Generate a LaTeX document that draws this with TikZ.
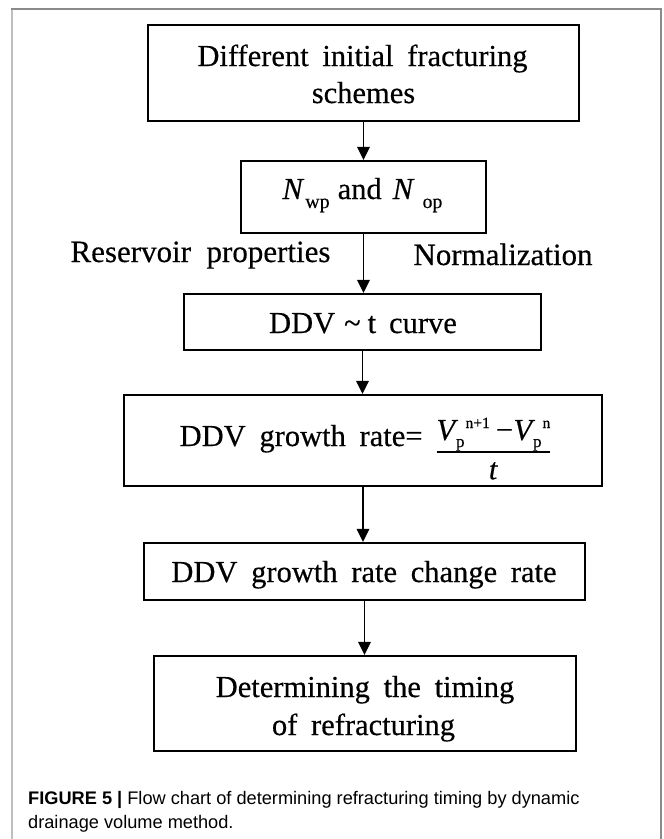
\documentclass[tikz,border=0pt]{standalone}
\usepackage{fontspec}
\setmainfont{Liberation Serif}[WordSpace=1.8, FakeBold=0.4]
\newfontfamily\labelfont{Liberation Serif}[WordSpace=2, FakeBold=0.4]
\newfontfamily\capfont{Liberation Sans}
\usetikzlibrary{arrows.meta}
\definecolor{framedark}{HTML}{8A8A8A}
\definecolor{framelight}{HTML}{BEBEBE}
\newcommand\lowsub[1]{\raisebox{-9pt}{\fontsize{20}{20}\selectfont #1}}
\newcommand\Vpp[1]{\textit{V}\kern-2pt\raisebox{-7pt}{\fontsize{17}{17}\selectfont p}\kern1pt\raisebox{12pt}{\fontsize{15.5}{15.5}\selectfont #1}}
\newcommand\myfrac[2]{\vtop{\halign{\hfil##\hfil\cr
  \raisebox{0pt}[\height][0pt]{#1}\cr
  \noalign{\kern11.3pt\hrule height 1.4pt}
  \rule{0pt}{26.6pt}#2\cr}}}
\begin{document}
\begin{tikzpicture}[x=1pt,y=-1pt,
  box/.style={draw=black, line width=2.1pt, inner sep=0pt},
  bt/.style={inner sep=0pt, anchor=base, font=\fontsize{30.5}{31}\selectfont},
  lbl/.style={inner sep=0pt, anchor=base, font=\labelfont\fontsize{31}{32}\selectfont},
  captxt/.style={inner sep=0pt, anchor=base west, font=\capfont\fontsize{18.2}{19}\selectfont},
  arr/.style={line width=1.8pt, -{Triangle[length=13pt,width=12.5pt]}}
]
\useasboundingbox (0,0) rectangle (664,839);
\fill[white] (0,0) rectangle (664,839);
\draw[framelight, line width=1.8pt] (12,839) -- (12,9);
\draw[framedark, line width=1.6pt] (11.1,9) -- (661,9) -- (661,839);

\node[box, minimum width=431pt, minimum height=96pt] (b1) at (363.5,73) {};
\node[box, minimum width=245pt, minimum height=72pt] (b2) at (363.5,197) {};
\node[box, minimum width=357pt, minimum height=56pt] (b3) at (362.5,322) {};
\node[box, minimum width=478pt, minimum height=91pt] (b4) at (363,440.5) {};
\node[box, minimum width=441pt, minimum height=57pt] (b5) at (364.5,571.5) {};
\node[box, minimum width=422pt, minimum height=95pt] (b6) at (365,703.5) {};

\node[bt] (t1a) at (362.5,66) {Different initial fracturing};
\node[bt] (t1b) at (363.5,103) {schemes};
\node[bt] (t2) at (362.5,199) {\textit{N}\kern1pt\lowsub{wp}\kern8pt and\kern11pt\textit{N}\kern8pt\lowsub{op}};
\node[bt] (t3) at (363,333) {DDV\kern9pt\textasciitilde\kern7pt t\kern13pt curve};
\node[bt] (t4) at (365,446) {DDV growth rate=\kern14pt\raisebox{6pt}{\myfrac{\Vpp{n+1}\kern6pt−\kern0.5pt\Vpp{n}}{\textit{t}}}};
\node[bt] (t5) at (364,582) {DDV growth rate change rate};
\node[bt] (t6a) at (365,697) {Determining the timing};
\node[bt] (t6b) at (363.5,735) {of refracturing};

\node[lbl] (l1) at (200.5,262) {Reservoir properties};
\node[lbl] (l2) at (503,265) {Normalization};

\draw[arr] (b1.south) -- (b1.south |- b2.north);
\draw[arr] (b2.south) -- (b2.south |- b3.north);
\draw[arr] (b3.south) -- (b3.south |- b4.north);
\draw[arr] (b4.south) -- (b4.south |- b5.north);
\draw[arr] (b5.south) -- (b5.south |- b6.north);

\node[captxt] (c1) at (28,804) {\textbf{FIGURE 5 |} Flow chart of determining refracturing timing by dynamic};
\node[captxt] (c2) at (28,828) {drainage volume method.};
\end{tikzpicture}
\end{document}
